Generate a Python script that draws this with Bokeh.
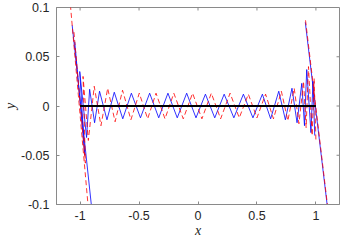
from bokeh.plotting import figure
from bokeh.models import Range1d, FixedTicker
from bokeh.embed import file_html
from bokeh.resources import INLINE

# ---- data ----
x_ticks = [-1, -0.5, 0, 0.5, 1]
x_tick_labels = ["-1", "-0.5", "0", "0.5", "1"]
y_ticks = [-0.1, -0.05, 0, 0.05, 0.1]
y_tick_labels = ["-0.1", "-0.05", "0", "0.05", "0.1"]

# blue solid curve (extrema, left to right)
blue_x = [-1.045, -0.960, -1.003, -0.945, -0.919, -0.877, -0.835, -0.772, -0.710, -0.638,
          -0.565, -0.488, -0.410, -0.333, -0.255, -0.176, -0.096, -0.017, 0.063, 0.142,
          0.222, 0.304, 0.385, 0.466, 0.546, 0.616, 0.685, 0.741, 0.797, 0.840,
          0.880, 0.903, 0.922, 0.958, 0.975, 0.990]
blue_y = [0.065, -0.050, 0.035, -0.032, 0.017, -0.017, 0.015, -0.014, 0.014, -0.013,
          0.013, -0.012, 0.013, -0.012, 0.013, -0.012, 0.013, -0.012, 0.012, -0.012,
          0.012, -0.012, 0.012, -0.012, 0.012, -0.013, 0.015, -0.014, 0.018, -0.017,
          0.023, -0.020, 0.037, -0.027, 0.025, -0.030]
# red dashed curve (extrema, left to right)
red_x = [-1.052, -0.955, -0.975, -0.930, -0.880, -0.823, -0.766, -0.703, -0.640, -0.569,
         -0.498, -0.427, -0.356, -0.280, -0.205, -0.125, -0.046, 0.033, 0.113, 0.192,
         0.272, 0.350, 0.427, 0.500, 0.573, 0.640, 0.707, 0.762, 0.816, 0.856,
         0.895, 0.917, 0.937, 0.968, 0.985, 1.000]
red_y = [0.075, -0.058, 0.030, -0.035, 0.020, -0.020, 0.018, -0.016, 0.016, -0.014,
         0.013, -0.013, 0.013, -0.013, 0.013, -0.013, 0.013, -0.013, 0.013, -0.013,
         0.013, -0.012, 0.012, -0.012, 0.012, -0.013, 0.015, -0.015, 0.018, -0.018,
         0.025, -0.022, 0.040, -0.030, 0.028, -0.035]
# steep end strokes
blue_left_x = [-1.067, -0.880]
blue_left_y = [0.082, -0.128]
blue_right_x = [0.910, 1.125]
blue_right_y = [0.085, -0.130]
red_left_x = [-1.106, -0.911]
red_left_y = [0.135, -0.130]
red_right_x = [0.912, 1.127]
red_right_y = [0.087, -0.130]
# reference (black) line
ref_x = [-1, 1]
ref_y = [0, 0]

# ---- styling ----
FONT = "Liberation Sans"
AX = "#8a8a8a"
TXT = "#262626"
W, H = 343, 240
BL, BR, BT, BB = 52, 4, 7, 36
X0, X1, Y0, Y1 = -1.2, 1.2, -0.1, 0.1
TICK_PX = 3

p = figure(width=W, height=H, x_range=Range1d(X0, X1), y_range=Range1d(Y0, Y1),
           output_backend="svg", toolbar_location=None,
           min_border_left=BL, min_border_right=BR, min_border_top=BT, min_border_bottom=BB)
p.background_fill_color = "white"
p.border_fill_color = "white"
p.outline_line_color = AX
p.outline_line_width = 1
p.xgrid.visible = False
p.ygrid.visible = False

def style_axis(ax, ticks, labels, standoff, name):
    ax.ticker = FixedTicker(ticks=ticks)
    ax.major_label_overrides = {t: l for t, l in zip(ticks, labels)}
    ax.axis_line_color = AX
    ax.major_tick_line_color = AX
    ax.major_tick_in = TICK_PX
    ax.major_tick_out = 0
    ax.minor_tick_line_color = None
    ax.major_label_text_font = FONT
    ax.major_label_text_color = TXT
    ax.major_label_text_font_size = "12.5px"
    ax.major_label_standoff = standoff
    ax.axis_label = name
    ax.axis_label_text_font = "Liberation Serif"
    ax.axis_label_text_font_style = "italic"
    ax.axis_label_text_font_size = "14px"
    ax.axis_label_text_color = TXT
    ax.axis_label_standoff = 0

style_axis(p.xaxis[0], x_ticks, x_tick_labels, 6, "x")
style_axis(p.yaxis[0], y_ticks, y_tick_labels, 7, "y")

# mirrored inward ticks on the top and right edges of the box
dy = TICK_PX * (Y1 - Y0) / (H - BT - BB)
dx = TICK_PX * (X1 - X0) / (W - BL - BR)
p.segment(x0=x_ticks, x1=x_ticks, y0=[Y1] * len(x_ticks), y1=[Y1 - dy] * len(x_ticks),
          line_color=AX, line_width=1)
p.segment(x0=[X1] * len(y_ticks), x1=[X1 - dx] * len(y_ticks), y0=y_ticks, y1=y_ticks,
          line_color=AX, line_width=1)

p.multi_line(xs=[blue_x, blue_left_x, blue_right_x], ys=[blue_y, blue_left_y, blue_right_y],
             line_color="#0000ff", line_width=1, line_alpha=0.8)
p.multi_line(xs=[red_x, red_left_x, red_right_x], ys=[red_y, red_left_y, red_right_y],
             line_color="#ff0000", line_width=1, line_alpha=0.8, line_dash="5 3")
p.line(ref_x, ref_y, line_color="black", line_width=2.2)

open("out.html", "w").write(file_html(p, INLINE))
